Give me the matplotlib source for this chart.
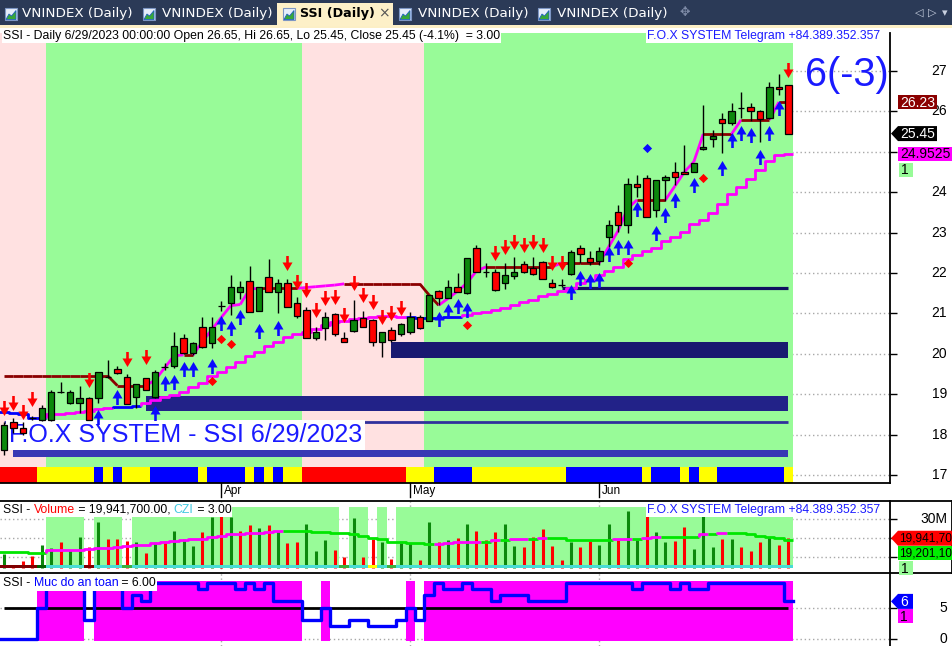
import numpy as np
import matplotlib.pyplot as plt
from matplotlib.patches import Rectangle, Polygon
from matplotlib.path import Path
from matplotlib.transforms import Affine2D
from matplotlib.collections import LineCollection
from matplotlib.font_manager import FontProperties

W, H = 953, 646
FONT = 'Liberation Sans'

# ---------------- values (one entry per daily bar) ----------------
opens = [17.62, 18.30, 18.15, 18.41, 18.36, 18.36, 19.05, 18.77, 18.79, 18.90,
         18.90, 19.43, 19.62, 19.43, 18.94, 19.39, 18.94, 19.68, 19.70, 20.38,
         20.01, 20.67, 20.26, 21.17, 21.25, 21.54, 21.79, 21.07, 21.89, 21.54,
         21.74, 21.25, 21.08, 20.38, 20.63, 20.98, 20.38, 20.57, 20.88, 20.84,
         20.28, 20.59, 20.48, 20.53, 20.92, 20.82, 21.55, 21.39, 21.64, 21.50,
         22.61, 22.02, 22.02, 21.74, 21.93, 22.22, 22.12, 22.27, 21.74, 21.70,
         21.97, 22.61, 22.36, 22.30, 22.88, 23.52, 23.19, 24.20, 24.34, 23.56,
         24.30, 24.51, 24.51, 24.51, 25.06, 25.31, 25.81, 25.71, 26.09, 26.10,
         26.01, 25.83, 26.61, 26.65]
highs = [18.30, 18.40, 18.30, 18.47, 18.73, 19.10, 19.31, 19.10, 19.19, 18.93,
         19.56, 19.85, 19.70, 19.50, 19.25, 19.40, 19.60, 19.78, 20.55, 20.50,
         20.30, 20.90, 20.90, 21.30, 21.95, 21.80, 22.18, 21.65, 22.35, 21.85,
         21.85, 21.40, 21.15, 20.65, 21.04, 21.00, 20.55, 21.33, 21.06, 20.86,
         20.55, 20.65, 20.76, 21.04, 20.95, 21.45, 21.58, 21.83, 22.00, 22.36,
         22.69, 22.24, 22.10, 22.24, 22.40, 22.30, 22.40, 22.30, 21.84, 21.84,
         22.57, 22.70, 22.55, 22.63, 23.30, 23.68, 24.34, 24.42, 24.42, 24.30,
         24.42, 24.75, 25.17, 24.71, 26.16, 25.54, 25.95, 26.20, 26.49, 26.20,
         26.03, 26.72, 26.93, 26.65]
lows = [17.50, 18.05, 18.00, 18.35, 18.34, 18.33, 19.02, 18.75, 18.53, 18.36,
        18.78, 19.40, 19.50, 18.75, 18.66, 19.10, 18.90, 19.60, 19.65, 20.00,
        19.98, 20.15, 20.15, 21.05, 20.95, 21.35, 21.03, 21.07, 21.54, 21.00,
        21.15, 20.88, 20.38, 20.35, 20.34, 20.45, 20.28, 20.55, 20.65, 20.18,
        19.93, 20.30, 20.45, 20.50, 20.60, 20.80, 21.20, 21.38, 21.52, 21.48,
        22.02, 21.91, 21.55, 21.60, 21.85, 22.00, 21.95, 21.84, 21.63, 21.66,
        21.96, 22.24, 22.20, 22.20, 22.65, 23.02, 23.00, 23.89, 23.38, 23.38,
        23.77, 24.18, 24.44, 24.50, 25.05, 25.13, 24.96, 25.66, 25.83, 25.75,
        25.25, 25.80, 26.41, 25.45]
closes = [18.24, 18.15, 18.05, 18.41, 18.65, 19.05, 19.05, 19.05, 18.90, 18.36,
          19.56, 19.43, 19.52, 18.75, 19.25, 19.10, 19.56, 19.68, 20.20, 20.01,
          20.26, 20.16, 20.67, 21.17, 21.65, 21.65, 21.03, 21.65, 21.54, 21.74,
          21.15, 20.94, 20.38, 20.53, 20.92, 20.48, 20.28, 20.84, 20.67, 20.28,
          20.53, 20.33, 20.73, 20.92, 20.63, 21.45, 21.39, 21.64, 21.54, 22.36,
          22.02, 22.02, 21.58, 21.95, 22.02, 22.02, 21.97, 21.84, 21.65, 21.70,
          22.51, 22.47, 22.27, 22.55, 23.19, 23.19, 24.20, 24.14, 23.38, 24.30,
          24.38, 24.38, 24.44, 24.71, 25.13, 25.39, 25.71, 26.01, 26.09, 26.01,
          25.80, 26.60, 26.55, 25.45]

# trailing stop (upper line) and rising support (lower step line)
trail = [19.45] * 12 + [19.21] * 4 + [19.35, 19.65, 19.95, 19.97, 19.97, 20.30, 20.60, 20.90,
         21.19, 21.22, 21.60] + [21.62] * 5 + [21.64, 21.66, 21.68, 21.70] + [21.73] * 9 + \
        [21.45, 21.20, 21.37, 21.55, 21.75, 22.05] + [22.15] * 8 + [22.25] * 5 + \
        [22.65, 23.05, 23.60] + [23.81] * 4 + [24.15, 24.50, 24.75] + [25.44] * 4 + \
        [25.79] * 4 + [26.23] * 2
support = [18.55, 18.53, 18.50, 18.42, 18.42, 18.50, 18.52, 18.54, 18.56, 18.59,
           18.62, 18.66, 18.68, 18.68, 18.70, 18.78, 18.85, 18.92, 18.98, 19.05,
           19.18, 19.28, 19.45, 19.55, 19.66, 19.80, 19.95, 20.05, 20.18, 20.30,
           20.42, 20.48, 20.53, 20.62, 20.70, 20.78, 20.82, 20.86, 20.89, 20.91,
           20.93, 20.94, 20.92, 20.90, 20.89, 20.89, 20.89, 20.90, 20.90, 20.95,
           21.00, 21.03, 21.08, 21.12, 21.20, 21.27, 21.34, 21.42, 21.48, 21.55,
           21.62, 21.74, 21.83, 21.95, 22.05, 22.15, 22.35, 22.45, 22.55, 22.62,
           22.78, 22.88, 23.02, 23.20, 23.32, 23.48, 23.70, 23.95, 24.12, 24.32,
           24.55, 24.78, 24.92, 24.9525]
support_weak = [0, 1, 2, 3, 4, 12, 13, 14, 43, 44, 45, 46, 47, 48]

# trend (background) and signal strip states
trend = [-1] * 5 + [1] * 27 + [-1] * 13 + [1] * 39
strip = [-1] * 4 + [0] * 6 + [1, 0, 1] + [0] * 3 + [1] * 5 + [0] + [1] * 4 + [0, 1, 0, 1] + \
        [0] * 2 + [-1] * 11 + [0] * 3 + [1] * 4 + [0] * 10 + [1] * 8 + [0] + [1] * 3 + \
        [0, 1] + [0] * 2 + [1] * 7 + [0]

# horizontal zones: start bar, low, high
zone_start = [41, 15, 1]
zone_low = [19.90, 18.59, 17.45]
zone_high = [20.28, 18.96, 17.62]
level_start = [0, 59]
level_value = [18.30, 21.62]

# signals
sell_idx = [0, 1, 2, 3, 9, 13, 15, 30, 31, 32, 33, 34, 35, 36, 37, 38, 39, 40, 41, 42,
            52, 53, 54, 55, 56, 57, 58, 59, 83]
sell_y = [18.66, 18.78, 18.56, 18.88, 19.35, 19.87, 19.92, 22.25, 21.78, 21.58, 21.08,
          21.38, 21.41, 20.96, 21.75, 21.46, 21.28, 20.91, 21.01, 21.13, 22.50, 22.64,
          22.77, 22.69, 22.77, 22.69, 22.25, 22.25, 27.02]
buy_idx = [10, 12, 16, 17, 18, 19, 20, 22, 23, 24, 25, 27, 29, 46, 47, 48, 49, 60, 61, 62,
           63, 64, 65, 66, 67, 69, 70, 71, 73, 76, 77, 78, 79, 80, 81, 82]
buy_y = [18.44, 18.93, 18.53, 19.28, 19.30, 19.62, 19.62, 19.70, 20.76, 20.64, 20.91,
         20.56, 20.64, 20.86, 21.06, 21.18, 21.08, 21.53, 21.88, 21.80, 21.83, 22.47,
         22.64, 22.64, 23.58, 22.99, 23.44, 23.81, 24.18, 24.60, 25.29, 25.47, 25.42,
         24.87, 25.47, 26.08]
red_dot_idx = [22, 23, 24, 49, 66, 74]
red_dot_y = [19.33, 20.37, 20.24, 20.71, 22.25, 24.35]
blue_dot_idx = [68]
blue_dot_y = [25.09]

# volume (millions), up/down flag, moving average and CZI state
volume = [11.7, 5.5, 7.7, 10.7, 16.5, 14.7, 18.2, 13.5, 20.8, 15.3,
          28.4, 19.6, 19.6, 18.6, 17.7, 12.4, 17.7, 18.6, 23.8, 19.5,
          16.0, 23.2, 31.1, 31.4, 31.1, 23.5, 27.0, 25.3, 27.0, 23.5,
          17.4, 18.2, 27.5, 13.3, 19.1, 13.8, 9.8, 30.5, 9.8, 19.5,
          17.7, 9.1, 17.4, 17.4, 8.6, 28.6, 18.2, 19.1, 20.0, 27.5,
          23.8, 19.1, 23.0, 27.5, 16.0, 15.1, 20.8, 24.9, 16.0, 8.6,
          17.7, 15.1, 18.7, 16.5, 27.5, 19.1, 34.4, 19.1, 34.9, 23.2,
          17.7, 18.6, 25.6, 14.2, 31.4, 15.3, 19.5, 19.5, 15.3, 13.0,
          17.7, 20.5, 16.5, 19.9417]
vol_up = [1, 0, 0, 0, 1, 1, 0, 1, 1, 0, 1, 0, 0, 0, 1, 0, 1, 0, 1, 1,
          1, 0, 1, 0, 1, 0, 0, 1, 0, 1, 0, 0, 1, 1, 1, 0, 0, 1, 0, 0,
          1, 0, 1, 1, 0, 1, 0, 1, 0, 1, 0, 0, 0, 1, 1, 0, 0, 0, 0, 0,
          1, 0, 0, 1, 1, 0, 1, 1, 0, 1, 1, 0, 0, 1, 1, 1, 0, 1, 0, 0,
          0, 1, 0, 0]
vol_ma = [12.9, 12.9, 12.9, 12.4, 12.4, 13.5, 13.6, 13.8, 14.0, 14.4,
          14.6, 15.0, 15.5, 16.0, 16.2, 16.4, 17.3, 18.2, 18.5, 18.9,
          19.3, 19.5, 20.4, 21.3, 22.1, 22.3, 22.5, 22.6, 23.0, 23.5,
          23.5, 23.5, 23.5, 23.3, 23.1, 22.9, 22.5, 22.1, 21.0, 20.0,
          19.3, 18.2, 17.8, 17.4, 17.2, 17.0, 17.1, 17.4, 17.8, 18.0,
          18.2, 18.2, 19.1, 19.1, 19.3, 19.6, 19.6, 20.3, 20.3, 20.3,
          19.1, 19.1, 19.1, 19.1, 19.1, 19.3, 19.6, 19.6, 20.0, 20.8,
          20.8, 20.8, 20.8, 20.8, 22.3, 22.3, 22.9, 22.9, 22.6, 22.1,
          21.2, 20.8, 20.0, 19.2011]
czi = [-3] * 4 + [2] + [3] * 4 + [-3] + [3] * 3 + [1] + [3] * 22 + [1] + [3] * 2 + [0] + \
      [3] + [1] + [3] * 42

# "Muc do an toan" (safety level)
safety = [0] * 4 + [5] + [9] * 4 + [3] + [9] * 3 + [5, 7, 6] + [9] * 5 + [8] + [9] * 3 + \
         [8, 9, 8, 9] + [6] * 3 + [3] * 2 + [5] + [2] * 2 + [3] * 2 + [2] * 3 + [3, 5, 3, 7, 9] + \
         [8] * 2 + [9] + [8] * 2 + [6] + [7] * 3 + [6] * 4 + [9] * 7 + [8] + [9] * 3 + [8, 9] + \
         [8] * 2 + [9] * 8 + [6]

month_labels = ['Apr', 'May', 'Jun']
month_idx = [23, 43, 63]

n = len(closes)
idx = np.arange(n)
opens, highs, lows, closes = map(np.array, (opens, highs, lows, closes))

GREEN = '#98fb98'
PINK = '#ffe1e1'
MAG = '#ff00ff'
MAROON = '#8b0000'
CGREEN = '#0c880c'
BLUE_TXT = '#1a1aff'
GRID = '#a8a8a8'


def runs(states):
    out, start = [], 0
    for i in range(1, len(states) + 1):
        if i == len(states) or states[i] != states[start]:
            out.append((start, i - 1, states[start]))
            start = i
    return out


def colored_steps(ax, vals, colors, lw, z):
    for a, b, c in runs(colors):
        xs = list(np.repeat(np.arange(a, b + 2) - 0.5, 2)[1:-1])
        ys = list(np.repeat(vals[a:b + 1], 2))
        if a > 0:
            xs.insert(0, a - 0.5)
            ys.insert(0, vals[a - 1])
        ax.plot(xs, ys, color=c, lw=lw, zorder=z, solid_capstyle='butt')


fig = plt.figure(figsize=(W / 100, H / 100), dpi=100)
PX = Affine2D().scale(1, -1).translate(0, H)   # top-left pixel coordinates


def frame(x0, y0, x1, y1):
    return [x0 / W, 1 - y1 / H, (x1 - x0) / W, (y1 - y0) / H]


ax1 = fig.add_axes(frame(0, 33, 890, 483))
ax2 = fig.add_axes(frame(0, 500.5, 890, 572.5))
ax3 = fig.add_axes(frame(0, 572.5, 890, 646))
XL = (-0.42, 93.76)
YL1 = (16.80, 27.94)
YL2 = (1.9, 39.8)
YL3 = (-1.18, 10.65)

for ax, yl, yt in ((ax1, YL1, range(17, 28)), (ax2, YL2, [10, 20, 30]), (ax3, YL3, [0, 5])):
    ax.set_xlim(*XL)
    ax.set_ylim(*yl)
    for s in ('left', 'top', 'bottom'):
        ax.spines[s].set_visible(False)
    ax.spines['right'].set_linewidth(1.3)
    ax.set_xticks([])
    ax.yaxis.tick_right()
    ax.set_yticks(list(yt))
    ax.tick_params(axis='y', length=5, width=1, labelright=False, labelleft=False)
    for v in yt:
        ax.axhline(v, color=GRID, lw=1, ls=(0, (1, 2)), zorder=0.1)
ax1.spines['bottom'].set_visible(True)
ax1.spines['bottom'].set_linewidth(1.3)
for ax in (ax2, ax3):
    for i in month_idx:
        ax.axvline(i, color=GRID, lw=1, ls=(0, (1, 2)), zorder=0.1)

# ---------------- price panel ----------------
for a, b, s in runs(trend):
    ax1.add_patch(Rectangle((a - 0.5, YL1[0]), b - a + 1, YL1[1] - YL1[0],
                            fc=GREEN if s > 0 else PINK, ec='none', zorder=0.2))
strip_col = {-1: '#ff0000', 0: '#ffff00', 1: '#0000ff'}
for a, b, s in runs(strip):
    ax1.add_patch(Rectangle((a - 0.5, YL1[0]), b - a + 1, 17.205 - YL1[0],
                            fc=strip_col[s], ec='none', zorder=1))

zone_cols = ['#191970', '#222288', '#3838b4']
for s, lo, hi, c in zip(zone_start, zone_low, zone_high, zone_cols):
    ax1.add_patch(Rectangle((s, lo), n - 1 - s, hi - lo, fc=c, ec='none', zorder=1))
for s, v, c, lw in zip(level_start, level_value, ['#30309c', '#101060'], [2.0, 2.3]):
    ax1.hlines(v, s, n - 1, color=c, lw=lw, zorder=1)

# lower support step line
sup_cols = ['#0000ff' if i in support_weak else MAG for i in range(n)]
colored_steps(ax1, support, sup_cols, 2.0, 2.4)

# trailing line
pts = np.column_stack([idx, trail])
segs = [[pts[i], pts[i + 1]] for i in range(n - 1)]
seg_cols = [MAG if trail[i + 1] > trail[i] else MAROON for i in range(n - 1)]
ax1.add_collection(LineCollection(segs, colors=seg_cols, linewidths=2.0, zorder=2.5))

# candles
up = closes > opens
dn = closes < opens
body_col = np.where(up, CGREEN, np.where(dn, '#ff0000', 'none'))
ax1.vlines(idx, lows, highs, color='black', lw=1, zorder=2.9)
ax1.bar(idx, np.abs(closes - opens), bottom=np.minimum(opens, closes), width=0.68,
        color=body_col, edgecolor='black', linewidth=0.9, zorder=3)

# signal arrows
arrow_up = [(0, 7.5), (-5, -1), (-1.3, -1), (-1.3, -7.5), (1.3, -7.5), (1.3, -1), (5, -1), (0, 7.5)]
arrow_dn = [(x, -y) for x, y in arrow_up]
ax1.scatter(buy_idx, buy_y, marker=Path(arrow_up), s=117, c='#0a0aff', linewidths=0, zorder=4)
ax1.scatter(sell_idx, sell_y, marker=Path(arrow_dn), s=117, c='#ff0000', linewidths=0, zorder=4)
ax1.scatter(red_dot_idx, red_dot_y, marker='D', s=22, c='#ff0000', linewidths=0, zorder=4)
ax1.scatter(blue_dot_idx, blue_dot_y, marker='D', s=22, c='#0a0aff', linewidths=0, zorder=4)

ax1.text(9, 434.5, 'F.O.X SYSTEM - SSI 6/29/2023', transform=PX, fontsize=18,
         family=FONT, color=BLUE_TXT, va='center', ha='left', zorder=2.7,
         bbox=dict(boxstyle='square,pad=0.12', fc='white', ec='none'))

# ---------------- volume panel ----------------
for a, b, s in runs(czi):
    if s == 3:
        ax2.add_patch(Rectangle((a - 0.5, 6.1), b - a + 1, 30.5, fc=GREEN, ec='none', zorder=0.2))
czi_col = {3: '#48dcd4', 2: '#006400', 1: '#3cb03c', 0: '#ffff00', -3: '#800000'}
vcols = [CGREEN if u else '#ff0000' for u in vol_up]
ax2.vlines(idx, 4.5, volume, colors=vcols, lw=2.2, zorder=2)
for a, b, s in runs(czi):
    ax2.add_patch(Rectangle((a - 0.5, 4.5), b - a + 1, 1.6, fc=czi_col[s], ec='none', zorder=3))
ma_cols = [MAG if i > 0 and vol_ma[i] > vol_ma[i - 1] else '#00e600' for i in range(n)]
colored_steps(ax2, vol_ma, ma_cols, 2.0, 4)

# ---------------- safety panel ----------------
for a, b, s in runs([v >= 5 for v in safety]):
    if s:
        ax3.add_patch(Rectangle((a - 0.5, -0.3), b - a + 1, 9.6, fc=MAG, ec='none', zorder=0.2))
ax3.hlines(5, 0, n - 1, color='black', lw=2, zorder=2)
xs = np.repeat(np.arange(n + 1) - 0.5, 2)[1:-1]
ax3.plot(xs, np.repeat(safety, 2), color='#0000ff', lw=2.4, zorder=3)


# ---------------- frame / UI pieces in pixel coordinates ----------------
def ypix(ax, v):
    return H - ax.transData.transform((0, v))[1]


def xpix(ax, i):
    return ax.transData.transform((i, 0))[0]


def box(x, y, w, h, fc, z=1, ec='none', lw=0):
    fig.add_artist(Rectangle((x, y), w, h, fc=fc, ec=ec, lw=lw, transform=PX, zorder=z))


def line(x0, y0, x1, y1, c='black', lw=1.3, z=5):
    fig.add_artist(plt.Line2D([x0, x1], [y0, y1], color=c, lw=lw, transform=PX, zorder=z))


renderer = fig.canvas.get_renderer()


def text_width(s, size, family=FONT):
    fp = FontProperties(family=family, size=size)
    w1 = renderer.get_text_width_height_descent(s + '|', fp, ismath=False)[0]
    w0 = renderer.get_text_width_height_descent('|', fp, ismath=False)[0]
    return w1 - w0


def label(x, y, parts, size=8.8, ha='left'):
    total = sum(text_width(s, size) for s, _ in parts)
    if ha == 'right':
        x -= total
    box(x - 1, y - 7, total + 2, 14, 'white', z=6)
    for s, c in parts:
        fig.text(x, y, s, transform=PX, fontsize=size, family=FONT, color=c,
                 va='center', ha='left', zorder=7)
        x += text_width(s, size)


def tag(yc, s, fc, tc, x0=898, w=39, arrow=False, size=10, pad=2):
    if arrow:
        pts = [(891, yc), (x0, yc - 7.5), (x0 + w, yc - 7.5), (x0 + w, yc + 7.5), (x0, yc + 7.5)]
    else:
        pts = [(x0, yc - 7), (x0 + w, yc - 7), (x0 + w, yc + 7), (x0, yc + 7)]
    fig.add_artist(Polygon(pts, closed=True, fc=fc, ec='none', transform=PX, zorder=8))
    fig.text(x0 + pad, yc + 0.5, s, transform=PX, fontsize=size, family=FONT, color=tc,
             va='center', ha='left', zorder=9)


# tab strip
box(0, 0, W, 25, '#2b3a57', z=1)
box(0, 25, W, 3, '#fcefc6', z=1)
box(277, 3, 116, 23, '#fdf0c8', z=1)
for ix in [5, 143, 283, 399, 538]:
    box(ix, 8, 12, 12, '#e6eefb', z=2, ec='#7d96c4', lw=0.8)
    fig.add_artist(Polygon([(ix + 1, 19.5), (ix + 4, 14), (ix + 6.5, 16), (ix + 11, 10.5), (ix + 11, 19.5)],
                           closed=True, fc='#38a838', ec='#2060c0', lw=0.6, transform=PX, zorder=3))
for tx in [22, 162, 418, 557]:
    fig.text(tx, 14, 'VNINDEX (Daily)', transform=PX, fontsize=9.7, family='DejaVu Sans',
             color='white', va='center', ha='left', zorder=4)
fig.text(300, 14, 'SSI (Daily)', transform=PX, fontsize=9.2, family='DejaVu Sans',
         weight='bold', color='black', va='center', ha='left', zorder=4)
fig.text(384, 13.5, '×', transform=PX, fontsize=10, family='DejaVu Sans', color='#555555',
         va='center', ha='center', zorder=4)
fig.text(685, 13, '✥', transform=PX, fontsize=9, family='DejaVu Sans', color='#7f8ca8',
         va='center', ha='center', zorder=4)
for tx, s in [(919, '◁'), (932, '▷'), (945, '▾')]:
    fig.text(tx, 13, s, transform=PX, fontsize=8, family='DejaVu Sans', color='#c8d0e0',
             va='center', ha='center', zorder=4)

# panel headers
label(3, 35.5, [('SSI - Daily 6/29/2023 00:00:00 Open 26.65, Hi 26.65, Lo 25.45, '
                 'Close 25.45 (-4.1%)  = 3.00', 'black')])
label(880, 35.5, [('F.O.X SYSTEM Telegram +84.389.352.357', BLUE_TXT)], ha='right')
label(3, 510, [('SSI - ', 'black'), ('Volume', '#ff0000'), (' = 19,941,700.00, ', 'black'),
               ('CZI', '#40c8e0'), (' = 3.00', 'black')])
label(880, 510, [('F.O.X SYSTEM Telegram +84.389.352.357', BLUE_TXT)], ha='right')
label(3, 583.5, [('SSI - ', 'black'), ('Muc do an toan', '#0000ff'), (' = 6.00', 'black')])

fig.text(805, 86, '6(-3)', transform=PX, fontsize=28.5, family=FONT, color=BLUE_TXT,
         va='baseline', ha='left', zorder=5)

# panel borders
line(0, 500.5, W, 500.5)
line(0, 572.5, W, 572.5)
line(952, 500.5, 952, 572.5)

# month ticks
for i, m in zip(month_idx, month_labels):
    xp = xpix(ax1, i)
    line(xp, 483, xp, 497, lw=1)
    fig.text(xp + 3, 491, m, transform=PX, fontsize=8.5, family=FONT, va='center', ha='left')

# right axis labels (those hidden behind value tags in the reference are left out)
for p in [17, 18, 19, 20, 21, 22, 23, 24, 26, 27]:
    fig.text(947, ypix(ax1, p), str(p), transform=PX, fontsize=10, family=FONT,
             va='center', ha='right', zorder=5)
fig.text(947, ypix(ax2, 30), '30M', transform=PX, fontsize=10, family=FONT,
         va='center', ha='right', zorder=5)
for v in [0, 5]:
    fig.text(947, ypix(ax3, v), str(v), transform=PX, fontsize=10, family=FONT,
             va='center', ha='right', zorder=5)

# value tags
tag(ypix(ax1, trail[-1]), f'{trail[-1]:.2f}', MAROON, 'white', w=39)
tag(ypix(ax1, closes[-1]), f'{closes[-1]:.2f}', 'black', 'white', w=39, arrow=True)
ys = ypix(ax1, support[-1])
tag(ys, f'{support[-1]:g}', MAG, 'black', w=54)
tag(ys + 16, '1', GREEN, 'black', x0=899, w=14)
yv = ypix(ax2, volume[-1])
tag(yv, f'{volume[-1] * 1e6:,.0f}'[:9], '#ff0000', 'black', w=60, arrow=True, size=8.6, pad=1)
tag(yv + 15, f'{vol_ma[-1] * 1e6:,.0f}'[:9], '#00ee00', 'black', w=60, size=8.6, pad=1)
tag(yv + 30, '1', GREEN, 'black', x0=899, w=14)
yb = ypix(ax3, safety[-1])
tag(yb, str(safety[-1]), '#0000ff', 'white', x0=898, w=15, arrow=True)
tag(yb + 15, '1', MAG, 'black', x0=898, w=15)

fig.savefig('out.png', dpi=100, facecolor='white')
